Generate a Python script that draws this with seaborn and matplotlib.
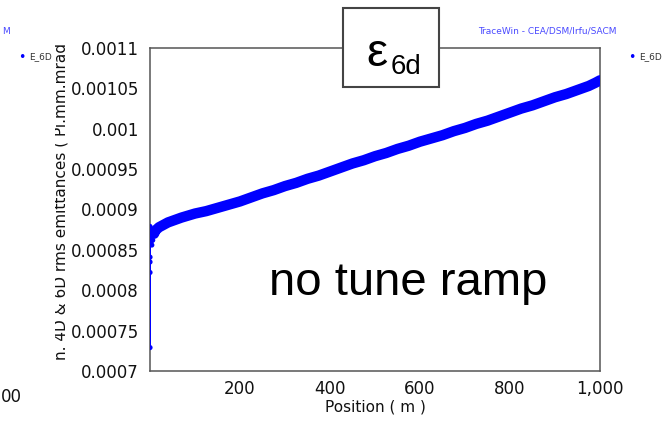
import matplotlib
matplotlib.use("Agg")
import matplotlib.pyplot as plt
import seaborn as sns
import pandas as pd
from matplotlib.patches import Rectangle
from matplotlib.transforms import Bbox, TransformedBbox
from matplotlib.ticker import FixedLocator, FixedFormatter, MultipleLocator

# ---- data ----
start_pos = [0, 0, 0, 0, 0, 0, 1, 2, 4, 6, 9, 12]
start_val = [0.000879, 0.000729, 0.000822, 0.000835, 0.000841, 0.000870,
             0.000866, 0.000860, 0.000856, 0.000862, 0.000870, 0.000874]

main_pos = [9, 12, 20, 30, 40, 50, 70, 100, 125, 150, 175, 200, 225, 250, 275, 300,
            325, 350, 375, 400, 425, 450, 475, 500, 525, 550, 575, 600, 625, 650,
            675, 700, 725, 750, 775, 800, 825, 850, 875, 900, 925, 950, 975, 990, 1000]
main_val = [0.000870, 0.000874, 0.000878, 0.000881, 0.000884, 0.000886, 0.000890,
            0.000895, 0.000898, 0.000902, 0.000906, 0.000910, 0.000915, 0.000920,
            0.000924, 0.000929, 0.000933, 0.000938, 0.000942, 0.000947, 0.000952,
            0.000957, 0.000961, 0.000966, 0.000970, 0.000975, 0.000979, 0.000984,
            0.000988, 0.000992, 0.000997, 0.001001, 0.001006, 0.001010, 0.001015,
            0.001020, 0.001025, 0.001029, 0.001034, 0.001039, 0.001043, 0.001048,
            0.001053, 0.001057, 0.001060]

x_ticks = [200, 400, 600, 800, 1000]
x_ticklabels = ["200", "400", "600", "800", "1,000"]
y_ticks = [0.0007, 0.00075, 0.0008, 0.00085, 0.0009, 0.00095, 0.001, 0.00105, 0.0011]
y_ticklabels = ["0.0007", "0.00075", "0.0008", "0.00085", "0.0009", "0.00095",
                "0.001", "0.00105", "0.0011"]

df_start = pd.DataFrame({"pos": start_pos, "val": start_val})
df_main = pd.DataFrame({"pos": main_pos, "val": main_val})

sns.set_style("white")
plt.rcParams["font.family"] = ["DejaVu Sans"]

W, H = 662, 426
fig = plt.figure(figsize=(W / 100, H / 100), dpi=100)
ax = fig.add_axes([150 / W, 1 - 371 / H, 450 / W, 323 / H])

blue = "#0000ff"
sns.lineplot(data=df_start, x="pos", y="val", ax=ax, color=blue, lw=1.3,
             sort=False, estimator=None, zorder=3)
sns.scatterplot(data=df_start, x="pos", y="val", ax=ax, color=blue, s=14,
                edgecolor="none", zorder=4)
sns.lineplot(data=df_main, x="pos", y="val", ax=ax, color=blue, lw=7.5,
             sort=False, estimator=None, zorder=3, solid_capstyle="round")

ax.set_xlim(0, 1000)
ax.set_ylim(0.0007, 0.0011)
ax.xaxis.set_major_locator(FixedLocator(x_ticks))
ax.xaxis.set_major_formatter(FixedFormatter(x_ticklabels))
ax.xaxis.set_minor_locator(MultipleLocator(50))
ax.yaxis.set_major_locator(FixedLocator(y_ticks))
ax.yaxis.set_major_formatter(FixedFormatter(y_ticklabels))
ax.yaxis.set_minor_locator(MultipleLocator(0.00001))

ax.tick_params(which="major", direction="out", length=6, width=1, color="#555555",
               labelsize=12, labelcolor="#111111", pad=2)
ax.tick_params(which="minor", direction="out", length=3.5, width=1, color="#555555")
ax.tick_params(axis="x", which="major", length=4.5)
ax.tick_params(axis="x", which="minor", length=4.5)
for s in ax.spines.values():
    s.set_color("#555555")
    s.set_linewidth(1.1)
    s.set_visible(True)

ax.set_xlabel("Position ( m )", fontsize=11, color="#111111", labelpad=1)
ax.set_ylabel("")

# clipped y-axis label
yl = fig.text(61 / W, 1 - 201 / H, "n. 4D & 6D rms emittances ( Pi.mm.mrad",
              rotation=90, ha="center", va="center", fontsize=11, color="#111111")
clipbox = TransformedBbox(Bbox([[55 / W, 0], [1, 1]]), fig.transFigure)
yl.set_clip_box(clipbox)
yl.set_clip_on(True)

# header texts
fig.text(547 / W, 1 - 31 / H, "TraceWin - CEA/DSM/Irfu/SACM", ha="center",
         va="center", fontsize=6.5, color="#4a4aff")
fig.text(2 / W, 1 - 31 / H, "M", ha="left", va="center", fontsize=6.5, color="#4a4aff")
fig.text(1 / W, 1 - 397 / H, "00", ha="left", va="center", fontsize=12, color="#111111")

# legends
for dx in (22, 632):
    fig.text(dx / W, 1 - 57 / H, "\u2022", ha="center", va="center", fontsize=9, color=blue)
    fig.text((dx + 7) / W, 1 - 57 / H, "E_6D", ha="left", va="center", fontsize=6.5,
             color="#333333")

# epsilon box
rect = Rectangle((343 / W, 1 - 87 / H), 96 / W, 79 / H, transform=fig.transFigure,
                 facecolor="white", edgecolor="#444444", lw=1.5, zorder=10)
fig.patches.append(rect)
fig.text(377 / W, 1 - 54 / H, "\u03b5", ha="center", va="center", fontsize=34,
         family="Liberation Sans", color="black", zorder=11)
fig.text(406 / W, 1 - 67 / H, "6d", ha="center", va="center", fontsize=20,
         family="Liberation Sans", color="black", zorder=11)

# annotation
fig.text(408 / W, 1 - 283 / H, "no tune ramp", ha="center", va="center",
         fontsize=34, family="Liberation Sans", color="black")

fig.savefig("out.png", dpi=100)
